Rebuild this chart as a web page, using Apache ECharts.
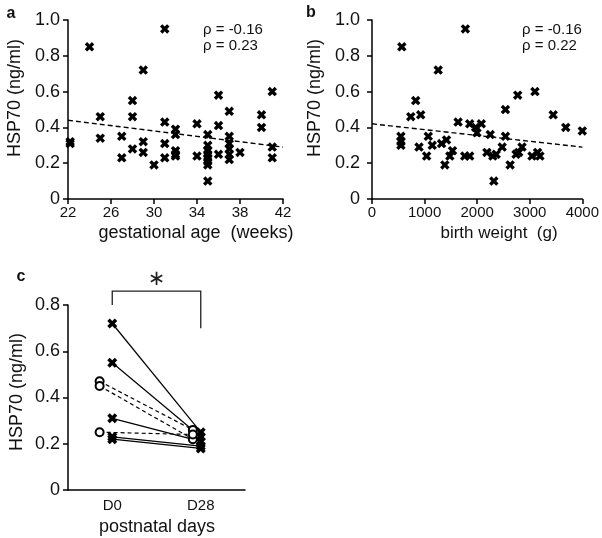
<!DOCTYPE html>
<html><head><meta charset="utf-8">
<script src="https://cdn.jsdelivr.net/npm/echarts@6/dist/echarts.min.js"></script>
<style>html,body{margin:0;padding:0;background:#fff}#c{width:602px;height:538px}</style>
</head><body><div id="c"></div>
<script>
// Panel a: gestational age (weeks) vs HSP70
const gaWeeks = [22.2,22.2, 24, 25,25, 27,27, 28,28,28, 29,29,29, 30, 31,31,31,31, 32,32,32,32,32, 34,34, 35,35,35,35,35,35,35,35, 36,36,36, 37,37,37,37,37,37, 38, 40,40, 41,41,41];
const gaHsp   = [0.31,0.32, 0.85, 0.46,0.34, 0.35,0.23, 0.55,0.46,0.28, 0.72,0.32,0.26, 0.19, 0.95,0.43,0.31,0.23, 0.39,0.36,0.27,0.25,0.24, 0.42,0.24, 0.36,0.30,0.27,0.25,0.23,0.21,0.19,0.10, 0.58,0.41,0.25, 0.49,0.35,0.31,0.28,0.25,0.22, 0.26, 0.47,0.40, 0.60,0.29,0.23];
// Panel b: birth weight (g) vs HSP70
const bwGrams = [567,550,550,550, 831,737,926,894, 1070,1039,1146,1259,1323,1417,1385,1480,1531,1637, 1776,1763,1858,1858,1971,1996,2079, 2249,2185,2298,2317,2362,2476,2538,2538,2627, 2771,2740,2790,2853, 3099,3043,3149,3194, 3446,3685,4000];
const bwHsp   = [0.85,0.35,0.32,0.30, 0.55,0.46,0.47,0.29, 0.35,0.24,0.30,0.72,0.31,0.33,0.19,0.24,0.27,0.43, 0.95,0.24,0.24,0.42,0.40,0.37,0.42, 0.36,0.26,0.24,0.10,0.25,0.29,0.50,0.35,0.19, 0.58,0.25,0.26,0.29, 0.60,0.24,0.26,0.24, 0.47,0.40,0.38];
// Regression (dashed) lines
const trendAx = [22, 42], trendAy = [0.44, 0.29];
const trendBx = [0, 4000], trendBy = [0.42, 0.29];
// Annotations
const statA = ['ρ = -0.16', 'ρ = 0.23'];
const statB = ['ρ = -0.16', 'ρ = 0.22'];
// Panel c: paired D0 / D28
const dayLabels = ['D0', 'D28'];
const dayValues = [0, 28];
const pairD0  = [0.72, 0.55, 0.47, 0.45, 0.31, 0.25, 0.23, 0.22];
const pairD28 = [0.25, 0.23, 0.26, 0.22, 0.21, 0.24, 0.19, 0.18];
const pairMark = ['x','x','o','o','x','o','x','x'];
const circleDayShift = [-4, -2.5];
const sigText = '∗';

const FONT = 'Liberation Sans, Arial, Helvetica, sans-serif';
const CROSS = 'path://M0,2.5 L2.5,0 L5,2.5 L7.5,0 L10,2.5 L7.5,5 L10,7.5 L7.5,10 L5,7.5 L2.5,10 L0,7.5 L2.5,5 Z';

const chart = echarts.init(document.getElementById('c'), null, {renderer: 'canvas'});

function yAxisCfg(grid, max, margin) {
  return {
    type: 'value', gridIndex: grid, min: 0, max: max, interval: 0.2,
    splitLine: {show: false},
    axisLine: {show: true, onZero: false, lineStyle: {color: '#000', width: 1.5}},
    axisTick: {show: true, length: 5, lineStyle: {color: '#000', width: 1.5}},
    axisLabel: {fontFamily: FONT, fontSize: 18, color: '#111', margin: margin,
      formatter: v => v === 0 ? '0' : v.toFixed(1)}
  };
}

const series = [
  {type: 'scatter', xAxisIndex: 0, yAxisIndex: 0, symbol: CROSS, symbolSize: 9.5,
   itemStyle: {color: '#000', opacity: 1}, data: gaWeeks.map((w, i) => [w, gaHsp[i]])},
  {type: 'line', xAxisIndex: 0, yAxisIndex: 0, symbol: 'none',
   lineStyle: {color: '#000', width: 1.4, type: [5, 3]}, data: trendAx.map((x, i) => [x, trendAy[i]])},
  {type: 'scatter', xAxisIndex: 1, yAxisIndex: 1, symbol: CROSS, symbolSize: 9.5,
   itemStyle: {color: '#000', opacity: 1}, data: bwGrams.map((w, i) => [w, bwHsp[i]])},
  {type: 'line', xAxisIndex: 1, yAxisIndex: 1, symbol: 'none',
   lineStyle: {color: '#000', width: 1.4, type: [5, 3]}, data: trendBx.map((x, i) => [x, trendBy[i]])}
];
pairD0.forEach((v0, i) => {
  const isC = pairMark[i] === 'o';
  const xs = dayValues.map((d, k) => isC ? d + circleDayShift[k] : d);
  series.push({
    type: 'line', xAxisIndex: 2, yAxisIndex: 2,
    symbol: isC ? 'circle' : CROSS, symbolSize: isC ? 8 : 10, showSymbol: true,
    itemStyle: isC ? {color: '#fff', borderColor: '#000', borderWidth: 2, opacity: 1} : {color: '#000', opacity: 1},
    lineStyle: {color: '#000', width: 1.2, type: isC ? [4, 3] : 'solid'},
    data: [[xs[0], v0], [xs[1], pairD28[i]]]
  });
});

const option = {
  animation: false,
  backgroundColor: '#fff',
  grid: [
    {left: 68, top: 20, width: 215, height: 179},
    {left: 372, top: 20, width: 211.6, height: 179},
    {left: 68, top: 305, width: 177, height: 185}
  ],
  xAxis: [
    {type: 'value', gridIndex: 0, min: 22, max: 42, interval: 4, splitLine: {show: false},
     axisLine: {onZero: false, lineStyle: {color: '#000', width: 1.5}},
     axisTick: {show: true, length: 5, lineStyle: {color: '#000', width: 1.5}},
     axisLabel: {fontFamily: FONT, fontSize: 15, color: '#111', margin: 6}},
    {type: 'value', gridIndex: 1, min: 0, max: 4000, interval: 1000, splitLine: {show: false},
     axisLine: {onZero: false, lineStyle: {color: '#000', width: 1.5}},
     axisTick: {show: true, length: 5, lineStyle: {color: '#000', width: 1.5}},
     axisLabel: {fontFamily: FONT, fontSize: 15, color: '#111', margin: 6, formatter: v => String(v)}},
    {type: 'value', gridIndex: 2, min: -14, max: 42, interval: 14, splitLine: {show: false},
     axisLine: {onZero: false, lineStyle: {color: '#000', width: 1.5}},
     axisTick: {show: false},
     axisLabel: {fontFamily: FONT, fontSize: 15, color: '#111', margin: 8,
       formatter: v => { const k = dayValues.indexOf(v); return k >= 0 ? dayLabels[k] : ''; }}}
  ],
  yAxis: [yAxisCfg(0, 1.0, 8), yAxisCfg(1, 1.0, 12), yAxisCfg(2, 0.8, 8)],
  series: series
};
chart.setOption(option);

function T(x, y, text, opts) {
  return {type: 'text', x: x, y: y, silent: true,
    style: Object.assign({text: text, fontFamily: FONT, fontSize: 18, fill: '#111',
      align: 'center', verticalAlign: 'middle'}, opts || {})};
}
const pL = chart.convertToPixel({xAxisIndex: 2, yAxisIndex: 2}, [dayValues[0], 0.80]);
const pT = chart.convertToPixel({xAxisIndex: 2, yAxisIndex: 2}, [dayValues[0], 0.86]);
const pR = chart.convertToPixel({xAxisIndex: 2, yAxisIndex: 2}, [dayValues[1], 0.70]);
const graphics = [
  T(11, 14, 'a', {fontWeight: 'bold', fontSize: 16}),
  T(311, 13, 'b', {fontWeight: 'bold', fontSize: 16}),
  T(21, 277, 'c', {fontWeight: 'bold', fontSize: 16}),
  Object.assign(T(15, 98, 'HSP70 (ng/ml)'), {rotation: Math.PI / 2}),
  Object.assign(T(315, 98, 'HSP70 (ng/ml)'), {rotation: Math.PI / 2}),
  Object.assign(T(17, 392, 'HSP70 (ng/ml)'), {rotation: Math.PI / 2}),
  T(196, 233, 'gestational age  (weeks)'),
  T(499, 233, 'birth weight  (g)', {fontSize: 17}),
  T(157, 527, 'postnatal days'),
  T(203, 30, statA[0], {fontSize: 15, align: 'left'}),
  T(203, 46, statA[1], {fontSize: 15, align: 'left'}),
  T(522, 30, statB[0], {fontSize: 15, align: 'left'}),
  T(522, 46, statB[1], {fontSize: 15, align: 'left'}),
  {type: 'polyline', silent: true,
   shape: {points: [[pL[0], pL[1]], [pL[0], pT[1]], [pR[0], pT[1]], [pR[0], pR[1]]]},
   style: {stroke: '#222', lineWidth: 1.3, fill: null}},
  T((pL[0] + pR[0]) / 2, pT[1] - 12, sigText, {fontSize: 21, fontFamily: 'DejaVu Sans', fill: '#222'})
];
chart.setOption({graphic: graphics});
</script>
</body></html>
